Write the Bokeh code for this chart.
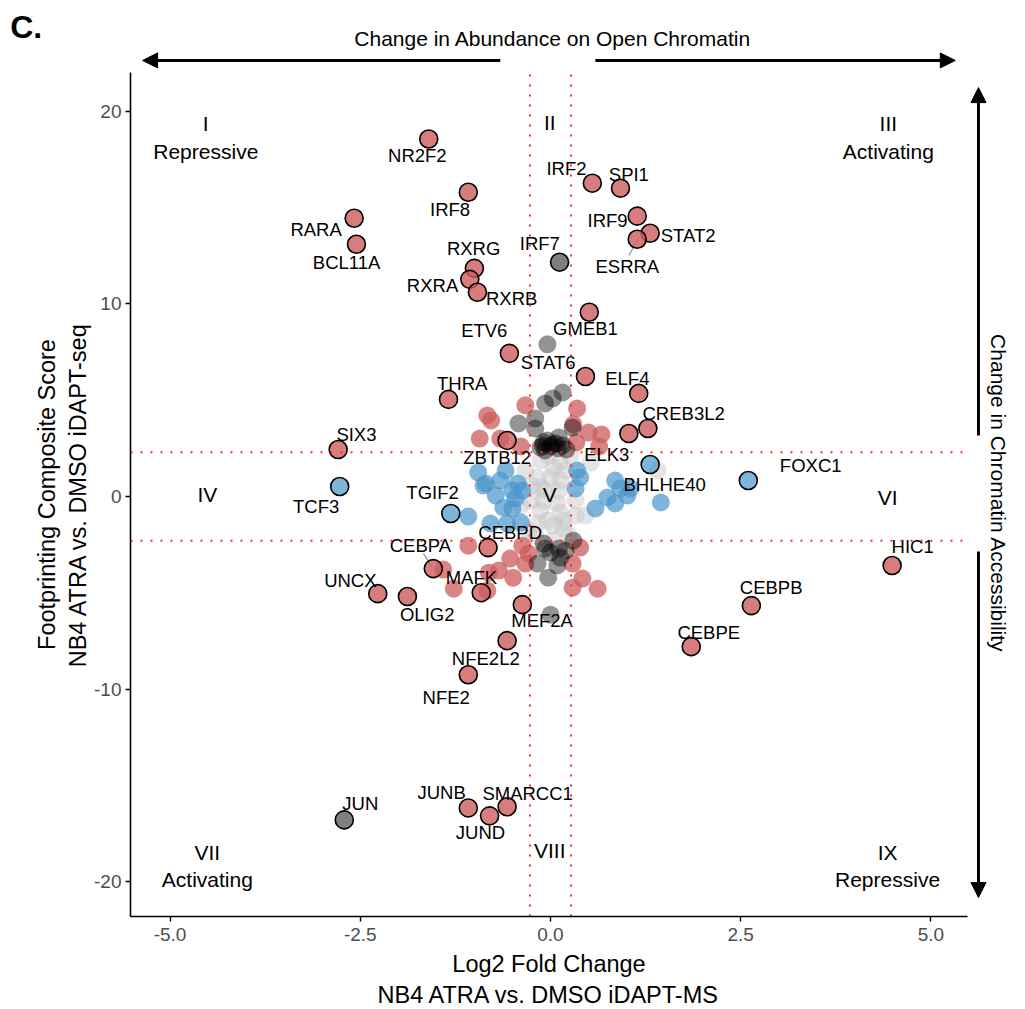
import math
from bokeh.plotting import figure
from bokeh.models import (ColumnDataSource, Label, Arrow, NormalHead,
                          NumeralTickFormatter, FixedTicker)
from bokeh.core.properties import value
from bokeh.embed import file_html
from bokeh.resources import INLINE

FONT = "Liberation Sans"

# ---------------- data ----------------
lab_names = ["NR2F2", "IRF8", "RARA", "BCL11A", "RXRG", "RXRA", "RXRB", "IRF2", "SPI1",
             "IRF9", "STAT2", "ESRRA", "IRF7", "GMEB1", "ETV6", "STAT6", "ELF4", "THRA",
             "ELK3", "CREB3L2", "SIX3", "ZBTB12", "TCF3", "BHLHE40", "FOXC1", "TGIF2",
             "CEBPD", "CEBPA", "HIC1", "UNCX", "OLIG2", "MAFK", "MEF2A", "NFE2L2", "NFE2",
             "CEBPB", "CEBPE", "JUN", "JUNB", "JUND", "SMARCC1"]
lab_x = [-1.60, -1.08, -2.58, -2.55, -1.00, -1.06, -0.96, 0.55, 0.92,
         1.14, 1.31, 1.14, 0.12, 0.51, -0.54, 0.46, 1.16, -1.34,
         1.03, 1.28, -2.79, -0.57, -2.77, 1.31, 2.60, -1.31,
         -0.82, -1.54, 4.49, -2.27, -1.88, -0.91, -0.37, -0.57, -1.08,
         2.64, 1.85, -2.71, -1.08, -0.80, -0.57]
lab_y = [18.55, 15.79, 14.44, 13.09, 11.84, 11.27, 10.60, 16.26, 16.00,
         14.55, 13.66, 13.35, 12.16, 9.56, 7.43, 6.23, 5.35, 5.04,
         3.27, 3.53, 2.44, 2.91, 0.52, 1.66, 0.83, -0.88,
         -2.65, -3.74, -3.58, -5.04, -5.19, -4.99, -5.61, -7.48, -9.25,
         -5.66, -7.79, -16.78, -16.16, -16.57, -16.10]
lab_group = ["red", "red", "red", "red", "red", "red", "red", "red", "red",
             "red", "red", "red", "grey", "red", "red", "red", "red", "red",
             "red", "red", "red", "red", "blue", "blue", "blue", "blue",
             "red", "red", "red", "red", "red", "red", "red", "red", "red",
             "red", "red", "grey", "red", "red", "red"]
lab_tx = [-1.75, -1.32, -3.08, -2.68, -1.01, -1.55, -0.51, 0.21, 1.03,
          0.75, 1.81, 1.01, -0.14, 0.46, -0.87, -0.03, 1.01, -1.16,
          0.74, 1.75, -2.55, -0.70, -3.08, 1.50, 3.42, -1.55,
          -0.53, -1.71, 4.76, -2.63, -1.62, -1.04, -0.11, -0.85, -1.37,
          2.90, 2.08, -2.50, -1.43, -0.92, -0.30]
lab_ty = [17.70, 14.89, 13.86, 12.14, 12.87, 10.95, 10.27, 17.02, 16.71,
          14.32, 13.54, 11.94, 13.13, 8.72, 8.61, 6.95, 6.12, 5.86,
          2.18, 4.31, 3.22, 2.02, -0.52, 0.62, 1.61, 0.21,
          -1.87, -2.54, -2.59, -4.36, -6.13, -4.20, -6.43, -8.41, -10.43,
          -4.72, -7.06, -15.93, -15.36, -17.44, -15.41]

# leader segments (from label to point)
seg_x0 = [-1.67, 1.03]
seg_y0 = [-2.96, 12.51]
seg_x1 = [-1.55, 1.16]
seg_y1 = [-3.68, 13.39]

red_x = [-0.33, 0.35, -0.83, -0.78, -0.93, -0.66, -0.39, 0.34, 0.50, 0.67, 0.64, 0.30,
         -1.08, -1.41, -1.27, -0.81, -0.49, -0.83, -0.37, -0.33, -0.53, -0.29, 0.39,
         0.42, 0.29, 0.62, 0.29, -0.68]
red_y = [4.73, 4.57, 4.21, 3.95, 3.01, 3.01, 2.60, 2.81, 3.32, 3.22, 2.60, 3.74,
         -2.55, -3.79, -4.78, -3.95, -4.21, -4.88, -2.55, -3.48, -3.22, -2.96, -2.65,
         -4.26, -4.73, -4.78, -3.48, -3.84]

black_x = [0.16, 0.03, -0.07, -0.20, -0.42, -0.20, 0.11, 0.29, -0.09, 0.00, 0.07, -0.13,
           0.16, -0.04, 0.21, -0.07, 0.03, -0.10, 0.10, -0.04, 0.00,
           -0.09, 0.00, 0.11, 0.30, 0.20, -0.17, 0.09, -0.03, -0.07, 0.13]
black_y = [5.40, 5.09, 4.83, 4.05, 3.79, 3.53, 3.06, 3.58, 2.81, 2.60, 2.75, 2.55,
           2.65, 2.91, 2.44, 2.39, 2.70, 2.65, 2.50, 7.90, -6.13,
           -2.44, -2.91, -2.70, -2.29, -2.81, -3.48, -3.58, -4.21, -2.70, -3.17]

blue_x = [-0.95, -0.59, -0.88, -0.72, -0.43, -0.37, -0.50, -0.62, -0.50, -0.46, -1.08,
          -0.39, -0.79, -0.57, -0.85, -0.66, 0.35, 0.39, 0.33, 0.85, 0.92, 1.01, 1.05,
          0.75, 0.59, 0.85, 1.45]
blue_y = [1.25, 1.35, 0.57, 0.05, 0.68, 0.31, 0.31, -0.57, -0.62, -0.10, -1.04,
          -1.35, -1.40, -1.40, 0.68, 0.83, 1.35, 0.99, 0.42, 0.83, 0.42, 0.05, 0.42,
          -0.05, -0.62, -0.36, -0.31]

grey_x = [-0.13, 0.04, -0.17, 0.00, 0.13, -0.13, 0.11, -0.09, 0.09, -0.13, 0.13, -0.04,
          0.17, -0.17, 0.04, 0.17, -0.33, -0.26, 0.26, 0.33, 0.33, -0.39, -0.29, 0.24,
          1.41, 0.53, 0.46, -0.03, 0.13, -0.20, 0.03, -0.07, 0.20, -0.26]
grey_y = [1.87, 1.51, 0.99, 0.99, 0.83, 0.47, 0.31, -0.21, -0.36, -0.73, -0.83, -1.25,
          -1.25, -1.40, -1.51, -1.66, 1.35, -0.21, 2.13, -0.21, -0.99, -0.47, -1.77, -2.03,
          1.35, 1.77, -0.99, 2.13, 1.77, -2.03, -2.29, 0.31, 1.35, 0.57]

quad_text = ["I", "Repressive", "II", "III", "Activating", "IV", "V", "VI",
             "VII", "Activating", "VIII", "IX", "Repressive"]
quad_x = [-4.53, -4.53, -0.01, 4.44, 4.44, -4.51, -0.01, 4.43,
          -4.51, -4.51, -0.01, 4.43, 4.43]
quad_y = [19.36, 17.90, 19.41, 19.36, 17.90, 0.10, 0.10, -0.05,
          -18.47, -19.88, -18.37, -18.47, -19.88]

x_ticks = [-5.0, -2.5, 0.0, 2.5, 5.0]
y_ticks = [-20, -10, 0, 10, 20]
x_cut = 0.27
y_cut = 2.3

# panel limits (data area of the scatter) and the wider canvas used for annotations
x_lo, x_hi = -5.52, 5.48
y_lo, y_hi = -21.8, 22.0
canvas_x = (-7.228, 6.243)
canvas_y = (-26.62, 25.74)

# ---------------- figure ----------------
p = figure(width=1025, height=1009, x_range=canvas_x, y_range=canvas_y,
           output_backend="svg", toolbar_location=None,
           min_border_left=0, min_border_right=0, min_border_top=0,
           min_border_bottom=0)
p.grid.visible = False
p.outline_line_color = None
p.background_fill_color = "white"
p.border_fill_color = "white"

xa = p.xaxis[0]
ya = p.yaxis[0]
xa.fixed_location = y_lo
ya.fixed_location = x_lo
xa.bounds = (x_lo, x_hi)
ya.bounds = (y_lo, y_hi)

for ax in (xa, ya):
    ax.axis_line_color = "black"
    ax.axis_line_width = 1.6
    ax.major_tick_line_color = "black"
    ax.major_tick_line_width = 1.4
    ax.major_tick_in = 0
    ax.major_tick_out = 5
    ax.minor_tick_line_color = None
    ax.major_label_text_font = FONT
    ax.major_label_text_font_size = "19px"
    ax.major_label_text_color = "#4D4D4D"
    ax.axis_label_text_font = FONT
    ax.axis_label_text_font_size = "23.5px"
    ax.axis_label_text_font_style = "normal"
    ax.axis_label_text_color = "black"

xa.ticker = FixedTicker(ticks=x_ticks)
xa.formatter = NumeralTickFormatter(format="0.0")
ya.ticker = FixedTicker(ticks=y_ticks)
ya.formatter = NumeralTickFormatter(format="0")
xa.major_label_standoff = 6
ya.major_label_standoff = 4
xa.axis_label = "Log2 Fold Change\nNB4 ATRA vs. DMSO iDAPT-MS"
ya.axis_label = "Footprinting Composite Score\nNB4 ATRA vs. DMSO iDAPT-seq"
xa.axis_label_standoff = 7
ya.axis_label_standoff = 0

# points
p.scatter(grey_x, grey_y, size=18, fill_color="#C4C4C4", fill_alpha=0.45, line_color=None)
p.scatter(blue_x, blue_y, size=18, fill_color="#4A95CC", fill_alpha=0.7, line_color=None)
p.scatter(red_x, red_y, size=18, fill_color="#CD5C5C", fill_alpha=0.75, line_color=None)
p.scatter(black_x, black_y, size=18, fill_color="black", fill_alpha=0.42, line_color=None)

fill_map = {"red": "#CD5C5C", "grey": "#000000", "blue": "#4A95CC"}
alpha_map = {"red": 0.8, "grey": 0.5, "blue": 0.7}
src = ColumnDataSource(dict(
    x=lab_x, y=lab_y, tx=lab_tx, ty=lab_ty, name=lab_names,
    fc=[fill_map[g] for g in lab_group], fa=[alpha_map[g] for g in lab_group]))

p.segment(seg_x0, seg_y0, seg_x1, seg_y1, line_color="#9A9A9A", line_width=1.3)
p.scatter("x", "y", source=src, size=18, fill_color="fc", fill_alpha="fa",
          line_color="black", line_width=1.6)
p.text("tx", "ty", text="name", source=src, text_font=value(FONT),
       text_font_size="18.5px", text_align="center", text_baseline="middle",
       text_color="black")

p.text(quad_x, quad_y, text=quad_text, text_font=value(FONT), text_font_size="21px",
       text_align="center", text_baseline="middle", text_color="black")

# cut-off lines, limited to the data panel
p.segment([-x_cut, x_cut], [y_lo, y_lo], [-x_cut, x_cut], [y_hi, y_hi],
          line_color="#FF2A2A", line_width=2, line_dash="2 8")
p.segment([x_lo, x_lo], [-y_cut, y_cut], [x_hi, x_hi], [-y_cut, y_cut],
          line_color="#FF2A2A", line_width=2, line_dash="2 8")

# direction arrows and annotations
def arrow(x0, y0, x1, y1):
    p.add_layout(Arrow(end=NormalHead(size=15, fill_color="black", line_color="black"),
                       x_start=x0, y_start=y0, x_end=x1, y_end=y1,
                       line_color="black", line_width=3))

arrow(-0.66, 22.63, -5.36, 22.63)
arrow(0.59, 22.63, 5.32, 22.63)
arrow(5.625, 3.17, 5.625, 21.22)
arrow(5.625, -2.85, 5.625, -20.81)

p.add_layout(Label(x=0.03, y=23.77, text="Change in Abundance on Open Chromatin",
                   text_align="center", text_baseline="middle", text_font=FONT,
                   text_font_size="21px", text_color="black"))
p.add_layout(Label(x=5.89, y=0.16, text="Change in Chromatin Accessibility",
                   angle=-math.pi / 2, text_align="center", text_baseline="middle",
                   text_font=FONT, text_font_size="21px", text_color="black"))
p.add_layout(Label(x=-7.10, y=24.39, text="C.", text_align="left",
                   text_baseline="middle", text_font=FONT, text_font_size="32px",
                   text_font_style="bold", text_color="black"))

open("out.html", "w").write(file_html(p, INLINE))
